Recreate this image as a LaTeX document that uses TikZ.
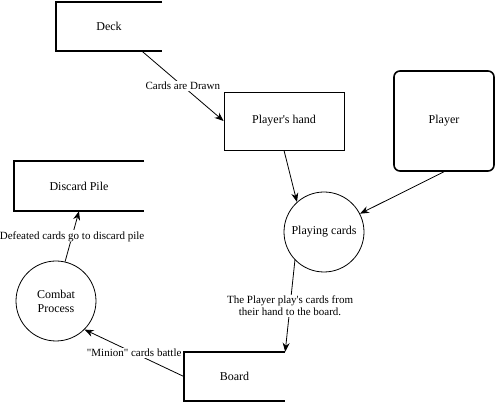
\documentclass[tikz,border=0pt]{standalone}
\usepackage{fontspec}
\setmainfont{Liberation Serif}
\usetikzlibrary{arrows.meta}
\tikzset{
  box/.style={draw, line width=0.8pt, inner sep=0pt, font=\fontsize{12}{14}\selectfont},
  storebox/.style={inner sep=0pt, font=\fontsize{12}{14}\selectfont},
  entity/.style={draw, line width=1.6pt, rounded corners=6pt, inner sep=0pt, minimum width=100pt, minimum height=100pt, font=\fontsize{12}{14}\selectfont},
  proc/.style={draw, circle, line width=0.8pt, inner sep=0pt, minimum size=80pt, align=center, font=\fontsize{12}{14}\selectfont},
  storeline/.style={line width=1.6pt},
  flow/.style={line width=0.8pt, -{Stealth[length=9pt,width=7pt]}},
  lbl/.style={fill=white, inner sep=1pt, align=center, font=\fontsize{11}{12.5}\selectfont}
}
\begin{document}
\begin{tikzpicture}[x=1pt,y=-1pt]
\useasboundingbox (0,0) rectangle (496,403);
% nodes
\node[storebox, minimum width=106pt, minimum height=49pt] (deck) at (109,26.5) {Deck};
\node[box, minimum width=120pt, minimum height=58pt] (hand) at (284,121) {Player\textquotesingle s hand};
\node[entity] (player) at (444,121) {Player};
\node[proc] (playing) at (324,232) {Playing cards};
\node[storebox, minimum width=130pt, minimum height=50pt] (discard) at (79,186) {Discard Pile};
\node[proc] (combat) at (56,301) {Combat\\Process};
\node[storebox, minimum width=101pt, minimum height=49pt] (board) at (234.5,376.5) {Board};
% data store outlines
\draw[storeline] (deck.north east) -- (deck.north west) -- (deck.south west) -- (deck.south east);
\draw[storeline] (discard.north east) -- (discard.north west) -- (discard.south west) -- (discard.south east);
\draw[storeline] (board.north east) -- (board.north west) -- (board.south west) -- (board.south east);
% connectors
\draw[flow] ([xshift=33pt]deck.south) -- node[lbl] (l1) {Cards are Drawn} (hand.west);
\draw[flow] (hand.south) -- (playing.132);
\draw[flow] (player.south) -- (playing.27);
\draw[flow] (playing.224) -- node[lbl] (l2) {The Player play\textquotesingle s cards from\\their hand to the board.} (board.north east);
\draw[flow] (board.west) -- node[lbl] (l3) {\textquotedbl Minion\textquotedbl{} cards battle} (combat.-45);
\draw[flow] (combat.77) -- node[lbl] (l4) {Defeated cards go to discard pile} (discard.south);
\end{tikzpicture}
\end{document}
